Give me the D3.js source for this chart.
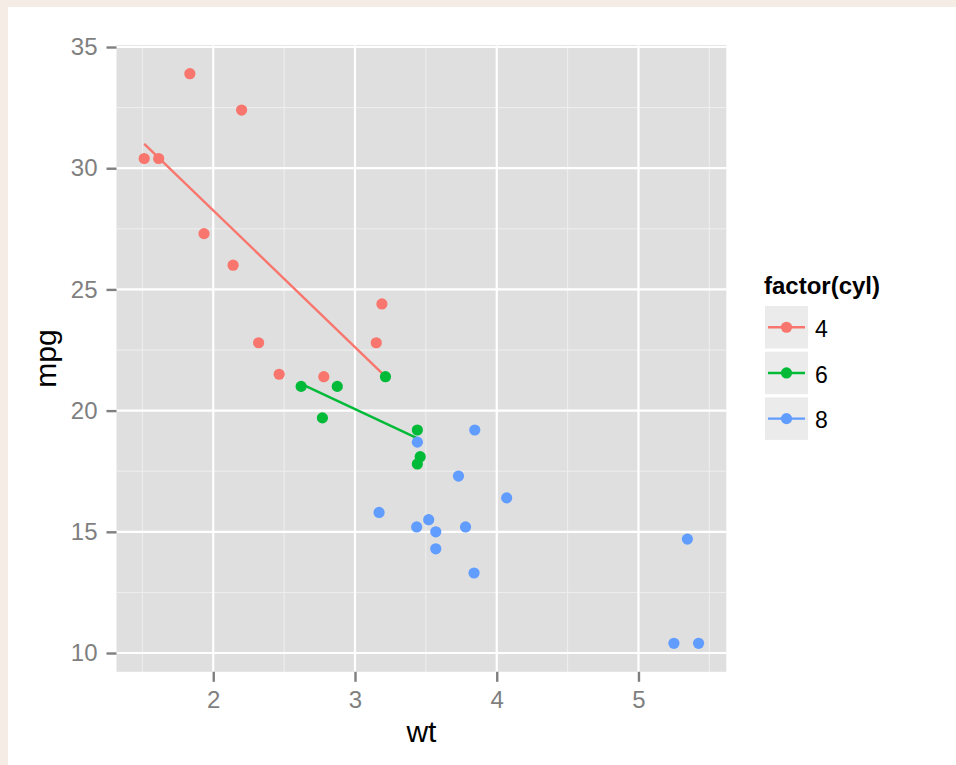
<!DOCTYPE html>
<html>
<head>
<meta charset="utf-8">
<script src="https://cdn.jsdelivr.net/npm/d3@7"></script>
<style>
  body { margin: 0; background: #f4ece5; }
  svg { display: block; }
  text { font-family: "Liberation Sans", Arial, sans-serif; }
</style>
</head>
<body>
<svg width="956" height="765"></svg>
<script>
// mtcars weight / mpg, split by cylinder count
var groups = ['4', '6', '8'];
var colors = ['#F8766D', '#00BA38', '#619CFF'];

var wt4  = [1.835, 2.2, 1.513, 1.615, 1.935, 2.14, 2.32, 2.465, 2.78, 3.15, 3.19];
var mpg4 = [33.9, 32.4, 30.4, 30.4, 27.3, 26.0, 22.8, 21.5, 21.4, 22.8, 24.4];
var wt6  = [2.62, 2.875, 2.77, 3.215, 3.44, 3.46, 3.44];
var mpg6 = [21.0, 21.0, 19.7, 21.4, 19.2, 18.1, 17.8];
var wt8  = [3.44, 3.57, 3.73, 3.78, 3.84, 3.845, 4.07, 3.52, 3.435, 3.17, 3.57, 5.25, 5.424, 5.345];
var mpg8 = [18.7, 14.3, 17.3, 15.2, 13.3, 19.2, 16.4, 15.5, 15.2, 15.8, 15.0, 10.4, 10.4, 14.7];

// fitted line ends (group 8 has no line drawn)
var fit4 = [[1.513, 31.0], [3.19, 21.55]];
var fit6 = [[2.62, 21.1], [3.46, 18.8]];

var xTicks = [2, 3, 4, 5];
var yTicks = [10, 15, 20, 25, 30, 35];
var xMinor = [1.5, 2.5, 3.5, 4.5, 5.5];
var yMinor = [12.5, 17.5, 22.5, 27.5, 32.5];

var svg = d3.select('svg');
var panel = {left: 116.5, right: 726.3, top: 45.2, bottom: 671.8};

var points = [];
[[wt4, mpg4], [wt6, mpg6], [wt8, mpg8]].forEach(function(g, i){
    for(let j=0; j<g[0].length; j++){
        points.push({wt: g[0][j], mpg: g[1][j], cyl: groups[i]});
    }
});
var fits = [{cyl: '4', pts: fit4}, {cyl: '6', pts: fit6}];

var color = d3.scaleOrdinal().domain(groups).range(colors);

var xExt = d3.extent(points, d => d.wt);
var yExt = d3.extent(points, d => d.mpg);
var xPad = (xExt[1] - xExt[0]) * 0.05;
var yPad = (yExt[1] - yExt[0]) * 0.05;
var x = d3.scaleLinear().domain([xExt[0] - xPad, xExt[1] + xPad]).range([panel.left, panel.right]);
var y = d3.scaleLinear().domain([yExt[0] - yPad, yExt[1] + yPad]).range([panel.bottom, panel.top]);

// white card on the page
svg.append('rect')
    .attr('x', 8).attr('y', 7)
    .attr('width', 960).attr('height', 770)
    .attr('fill', 'white');

// panel
svg.append('rect')
    .attr('x', panel.left).attr('y', panel.top)
    .attr('width', panel.right - panel.left)
    .attr('height', panel.bottom - panel.top)
    .attr('fill', '#dfdfdf');

svg.selectAll('.minorx')
    .data(xMinor)
    .join('line')
    .attr('class', 'minorx')
    .attr('x1', d => x(d)).attr('x2', d => x(d))
    .attr('y1', panel.top).attr('y2', panel.bottom)
    .attr('stroke', '#efefef')
    .attr('stroke-width', 1);

svg.selectAll('.minory')
    .data(yMinor)
    .join('line')
    .attr('class', 'minory')
    .attr('x1', panel.left).attr('x2', panel.right)
    .attr('y1', d => y(d)).attr('y2', d => y(d))
    .attr('stroke', '#efefef')
    .attr('stroke-width', 1);

svg.selectAll('.majorx')
    .data(xTicks)
    .join('line')
    .attr('class', 'majorx')
    .attr('x1', d => x(d)).attr('x2', d => x(d))
    .attr('y1', panel.top).attr('y2', panel.bottom)
    .attr('stroke', 'white')
    .attr('stroke-width', 2.2);

svg.selectAll('.majory')
    .data(yTicks)
    .join('line')
    .attr('class', 'majory')
    .attr('x1', panel.left).attr('x2', panel.right)
    .attr('y1', d => y(d)).attr('y2', d => y(d))
    .attr('stroke', 'white')
    .attr('stroke-width', 2.2);

// axes
var xAxis = svg.append('g')
    .attr('transform', 'translate(0,' + panel.bottom + ')')
    .call(d3.axisBottom(x).tickValues(xTicks).tickSize(10).tickPadding(9).tickFormat(d3.format('d')));
var yAxis = svg.append('g')
    .attr('transform', 'translate(' + panel.left + ',0)')
    .call(d3.axisLeft(y).tickValues(yTicks).tickSize(10).tickPadding(9).tickFormat(d3.format('d')));

[xAxis, yAxis].forEach(function(a){
    a.select('.domain').remove();
    a.selectAll('line').attr('stroke', '#7f7f7f').attr('stroke-width', 2.4);
    a.selectAll('text')
        .attr('fill', '#7f7f7f')
        .style('font-size', '24px')
        .style('font-family', '"Liberation Sans", Arial, sans-serif');
});

svg.append('text')
    .attr('x', (panel.left + panel.right) / 2)
    .attr('y', 741.5)
    .attr('text-anchor', 'middle')
    .style('font-size', '30px')
    .text('wt');

svg.append('text')
    .attr('transform', 'translate(55.5,' + ((panel.top + panel.bottom) / 2) + ') rotate(-90)')
    .attr('text-anchor', 'middle')
    .style('font-size', '30px')
    .text('mpg');

// fitted lines
var line = d3.line().x(d => x(d[0])).y(d => y(d[1]));
svg.selectAll('.fit')
    .data(fits)
    .join('path')
    .attr('class', 'fit')
    .attr('d', d => line(d.pts))
    .attr('fill', 'none')
    .attr('stroke', d => color(d.cyl))
    .attr('stroke-width', 2.4);

// points
svg.selectAll('.pt')
    .data(points)
    .join('circle')
    .attr('class', 'pt')
    .attr('cx', d => x(d.wt))
    .attr('cy', d => y(d.mpg))
    .attr('r', 5.6)
    .style('fill', d => color(d.cyl));

// legend
var legend = svg.append('g').attr('transform', 'translate(765,0)');
legend.append('text')
    .attr('x', -1).attr('y', 294)
    .style('font-size', '24px')
    .style('font-weight', 'bold')
    .text('factor(cyl)');

var keys = legend.selectAll('.key')
    .data(groups)
    .join('g')
    .attr('class', 'key')
    .attr('transform', (d, i) => 'translate(0,' + (306 + i * 45.7) + ')');

keys.append('rect')
    .attr('width', 43).attr('height', 42.5)
    .attr('fill', '#ebebeb');
keys.append('line')
    .attr('x1', 3).attr('x2', 40)
    .attr('y1', 21.25).attr('y2', 21.25)
    .attr('stroke', d => color(d))
    .attr('stroke-width', 2.4);
keys.append('circle')
    .attr('cx', 21.5).attr('cy', 21.25)
    .attr('r', 5.6)
    .attr('fill', d => color(d));
keys.append('text')
    .attr('x', 50).attr('y', 31)
    .style('font-size', '23px')
    .text(d => d);
</script>
</body>
</html>
